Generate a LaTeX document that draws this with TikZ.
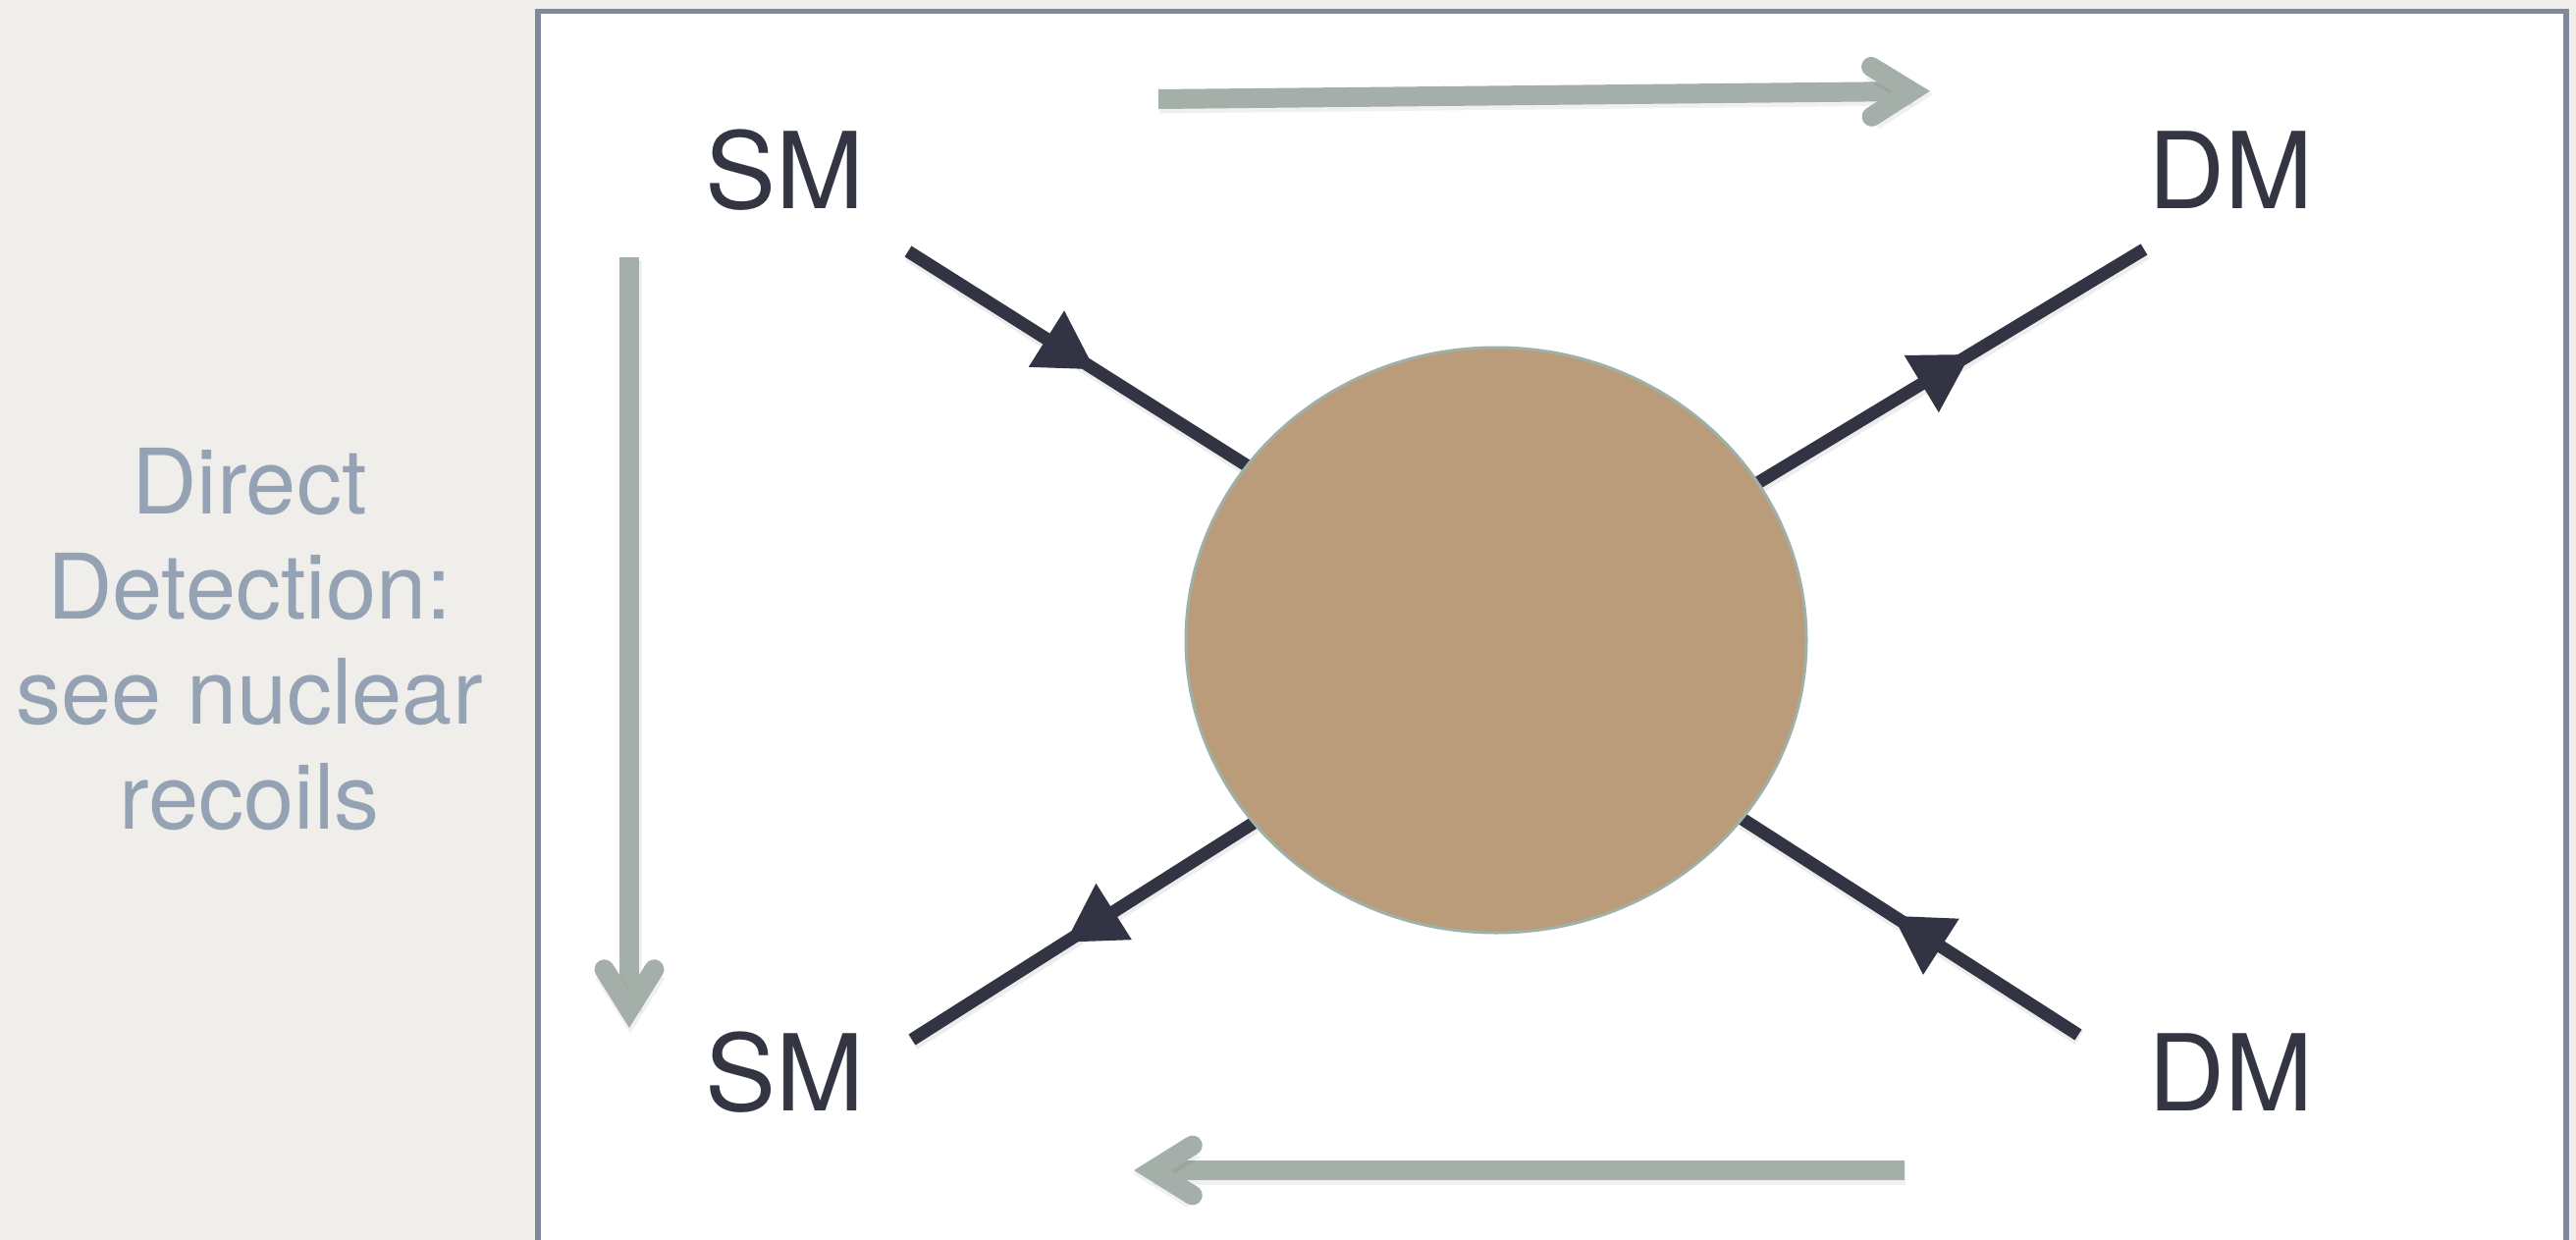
\documentclass[tikz,border=0pt]{standalone}
\usepackage{fontspec}
\setmainfont{TeX Gyre Heros}
\usetikzlibrary{shapes.geometric,calc,decorations.markings}

\definecolor{pagegrey}{HTML}{EFEEEB}
\definecolor{panelrule}{HTML}{7F8B9A}
\definecolor{labelink}{HTML}{343543}
\definecolor{fermink}{HTML}{323443}
\definecolor{blobfill}{HTML}{BA9C7A}
\definecolor{blobrule}{HTML}{9FB0A7}
\definecolor{flowgrey}{HTML}{A5AFA9}
\definecolor{sideink}{HTML}{94A2B4}

\pgfdeclarelayer{back}
\pgfdeclarelayer{lines}
\pgfsetlayers{back,lines,main}

\tikzset{
  particle/.style={text=labelink, font=\fontsize{108}{130}\selectfont,
    inner sep=0pt, anchor=base},
  % multi-line node: its base anchor sits on the last line
  sidetext/.style={text=sideink, font=\fontsize{92}{107}\selectfont,
    align=center, inner sep=0pt, anchor=base},
  blob/.style={ellipse, fill=blobfill, draw=blobrule, line width=3pt,
    minimum width=632pt, minimum height=596pt, inner sep=0pt, outer sep=0pt},
  fermion/.style={draw=fermink, line width=13pt, line cap=butt,
    preaction={draw=black, draw opacity=0.07, line width=16pt,
      transform canvas={shift={(1pt,-3pt)}}},
    postaction={decorate},
    decoration={markings, mark=at position 0.55 with
      {\fill[fermink] (0pt,0pt) -- (-58pt,34pt) -- (-58pt,-34pt) -- cycle;}}},
  flowshaft/.style={draw=flowgrey, line width=20pt, line cap=butt,
    preaction={draw=black, draw opacity=0.06, line width=23pt,
      transform canvas={shift={(1pt,-3pt)}}}},
  flowhead/.style={draw=flowgrey, line width=20pt, line cap=round, line join=miter,
    preaction={draw=black, draw opacity=0.06, line width=23pt,
      transform canvas={shift={(1pt,-3pt)}}}},
}

\begin{document}
\begin{tikzpicture}[x=1pt,y=-1pt]
\useasboundingbox (0,0) rectangle (2624,1263);

% page and framed panel
\begin{pgfonlayer}{back}
  \clip (0,0) rectangle (2624,1263);
  \fill[pagegrey] (0,0) rectangle (2624,1263);
  \draw[panelrule, line width=5.5pt, fill=white] (548,11.5) rectangle (2614,1330);
\end{pgfonlayer}

% caption on the left
\node[sidetext] (caption) at (254,844) {Direct\\Detection:\\see nuclear\\recoils};

% particle labels
\node[particle] (smtop) at (799,212) {SM};
\node[particle] (dmtop) at (2272,212) {DM};
\node[particle] (smbot) at (799,1131) {SM};
\node[particle] (dmbot) at (2272,1131) {DM};

% interaction blob
\node[blob] (blob) at (1524,652) {};

% outer ends of the external legs
\coordinate (legtl) at (925,256);
\coordinate (legtr) at (2184,254);
\coordinate (legbl) at (929,1059);
\coordinate (legbr) at (2117,1054);

\begin{pgfonlayer}{lines}
  \draw[fermion] (legtl) -- (blob.145.7);
  \draw[fermion] (blob.31.4) -- (legtr);
  \draw[fermion] (blob.217.8) -- (legbl);
  \draw[fermion] (legbr) -- (blob.324.4);
\end{pgfonlayer}

% reading-direction arrows around the diagram
\coordinate (topstart) at (1180,101);
\coordinate (topend) at (1947,93);
\coordinate (leftstart) at (641,262);
\coordinate (leftend) at (641,1028);
\coordinate (botstart) at (1940,1192);
\coordinate (botend) at (1174,1192);

\foreach \s/\e in {topstart/topend, leftstart/leftend, botstart/botend}{
  \draw[flowshaft] (\s) -- (\e);
  \draw[flowhead] ($(\e)!48pt!32:(\s)$) -- (\e) -- ($(\e)!48pt!-32:(\s)$);
}
\end{tikzpicture}
\end{document}
